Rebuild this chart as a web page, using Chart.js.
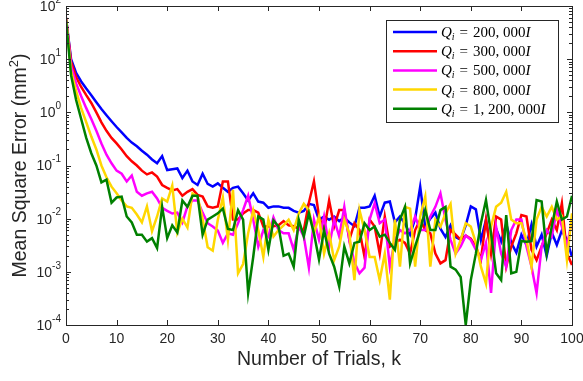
<!DOCTYPE html>
<html>
<head>
<meta charset="utf-8">
<script src="https://cdn.jsdelivr.net/npm/chart.js@4.4.0/dist/chart.umd.min.js"></script>
<style>
  html, body { margin: 0; padding: 0; background: #fff; }
  canvas { display: block; }
</style>
</head>
<body>
<canvas id="myChart" width="583" height="381"></canvas>
<script>
// trial index along the x-axis
var trials = [0,1,2,3,4,5,6,7,8,9,10,11,12,13,14,15,16,17,18,19,20,21,22,23,24,25,26,27,28,29,30,31,32,33,34,35,36,37,38,39,40,41,42,43,44,45,46,47,48,49,50,51,52,53,54,55,56,57,58,59,60,61,62,63,64,65,66,67,68,69,70,71,72,73,74,75,76,77,78,79,80,81,82,83,84,85,86,87,88,89,90,91,92,93,94,95,96,97,98,99,100];

// mean square error for each Q_i (mm^2)
var q200k = [60,10,5.5,3.8,2.8,2.1,1.55,1.15,0.88,0.68,0.53,0.42,0.33,0.27,0.23,0.19,0.16,0.13,0.11,0.15,0.082,0.085,0.088,0.058,0.08,0.05,0.043,0.07,0.045,0.04,0.046,0.038,0.032,0.038,0.04,0.03,0.022,0.03,0.021,0.02,0.016,0.017,0.017,0.016,0.016,0.014,0.013,0.014,0.019,0.018,0.0095,0.011,0.0095,0.011,0.009,0.0105,0.0085,0.0072,0.016,0.016,0.017,0.027,0.011,0.02,0.021,0.0085,0.011,0.008,0.005,0.01,0.04,0.007,0.01,0.013,0.0065,0.0045,0.0075,0.0045,0.004,0.0075,0.017,0.015,0.004,0.0095,0.0026,0.0065,0.0037,0.008,0.0035,0.0023,0.005,0.0032,0.0078,0.003,0.005,0.002,0.0055,0.0032,0.006,0.004,0.0019];
var q300k = [60,9,4.6,3.0,2.1,1.5,1.0,0.65,0.45,0.33,0.26,0.2,0.15,0.12,0.1,0.08,0.068,0.074,0.062,0.043,0.038,0.034,0.036,0.027,0.032,0.036,0.028,0.026,0.017,0.016,0.017,0.05,0.05,0.0096,0.0096,0.0125,0.0145,0.0145,0.013,0.0071,0.0071,0.0072,0.0075,0.009,0.0075,0.0072,0.0065,0.0061,0.02,0.05,0.011,0.006,0.022,0.0071,0.0145,0.0145,0.004,0.0082,0.0061,0.0019,0.0096,0.0071,0.0022,0.011,0.003,0.0035,0.004,0.0035,0.0022,0.0061,0.0096,0.0061,0.0053,0.0022,0.00144,0.00166,0.0061,0.005,0.004,0.0048,0.0042,0.003,0.0017,0.0096,0.0022,0.011,0.0096,0.00125,0.003,0.0053,0.0117,0.011,0.0026,0.00166,0.003,0.0053,0.0096,0.0061,0.0195,0.0022,0.00135];
var q500k = [60,7.5,3.5,2.0,1.2,0.75,0.45,0.26,0.16,0.11,0.08,0.07,0.05,0.065,0.032,0.027,0.03,0.032,0.024,0.016,0.014,0.0125,0.013,0.0085,0.017,0.022,0.022,0.013,0.0082,0.0071,0.006,0.0035,0.0053,0.005,0.0082,0.0145,0.027,0.0096,0.003,0.0061,0.0046,0.0105,0.0061,0.0053,0.0053,0.0026,0.0071,0.0046,0.0012,0.0096,0.004,0.011,0.003,0.0096,0.0046,0.0167,0.004,0.0015,0.00094,0.0012,0.0096,0.0195,0.0082,0.0096,0.00125,0.004,0.0061,0.0053,0.0061,0.011,0.0061,0.0061,0.011,0.0167,0.03,0.0096,0.004,0.0022,0.003,0.0048,0.004,0.0026,0.0017,0.0035,0.0004,0.0071,0.0022,0.00125,0.0061,0.0096,0.0096,0.003,0.00125,0.0004,0.003,0.0061,0.0046,0.0145,0.0071,0.003,0.0096];
var q800k = [60,6.0,2.5,1.2,0.65,0.35,0.2,0.1,0.06,0.04,0.03,0.022,0.017,0.016,0.012,0.0085,0.017,0.0058,0.011,0.024,0.021,0.042,0.0055,0.01,0.0068,0.03,0.026,0.01,0.0029,0.0025,0.0095,0.025,0.004,0.035,0.00094,0.0014,0.0053,0.0145,0.0061,0.0019,0.0096,0.0046,0.0061,0.0075,0.0096,0.0061,0.0125,0.019,0.0145,0.0053,0.011,0.0022,0.0053,0.00166,0.003,0.0096,0.0053,0.0007,0.0145,0.0061,0.0019,0.0019,0.0007,0.0022,0.0003,0.0096,0.00125,0.0167,0.0155,0.00125,0.011,0.026,0.00125,0.0096,0.0071,0.0126,0.019,0.0022,0.004,0.0082,0.0071,0.0035,0.00125,0.0006,0.0071,0.0167,0.02,0.032,0.0096,0.0082,0.0082,0.004,0.00125,0.0096,0.0167,0.011,0.0167,0.0096,0.011,0.00166,0.0126];
var q1200k = [55,5,1.7,0.75,0.33,0.17,0.1,0.048,0.054,0.02,0.025,0.026,0.011,0.0085,0.005,0.005,0.0037,0.0043,0.0028,0.0167,0.0043,0.0075,0.0055,0.022,0.0167,0.027,0.027,0.005,0.0096,0.011,0.0126,0.0155,0.0064,0.0061,0.0145,0.0096,0.0004,0.0019,0.011,0.0096,0.0026,0.0093,0.0071,0.002,0.0022,0.00125,0.0096,0.0046,0.0126,0.0053,0.0017,0.0061,0.0022,0.00125,0.00053,0.003,0.00144,0.0035,0.0037,0.0082,0.0061,0.0071,0.0046,0.005,0.0035,0.0026,0.0096,0.0167,0.00144,0.003,0.0061,0.0145,0.0061,0.0061,0.0145,0.0167,0.00125,0.0011,0.0008,0.0001,0.0007,0.0022,0.0082,0.0224,0.0053,0.00094,0.0007,0.0117,0.00094,0.001,0.0038,0.0037,0.0038,0.0224,0.021,0.0022,0.0071,0.021,0.0096,0.011,0.027];

var seriesNames = ['200, 000', '300, 000', '500, 000', '800, 000', '1, 200, 000'];
var seriesColors = ['#0000ff', '#ff0000', '#ff00ff', '#ffd700', '#008000'];

// tick labels
var xTicks = [0,10,20,30,40,50,60,70,80,90,100];
var yTickExp = [-4,-3,-2,-1,0,1,2];

var allSeries = [q200k, q300k, q500k, q800k, q1200k];
var TEXT = '#262626';
var SANS = '"Liberation Sans", Arial, Helvetica, sans-serif';
var SERIF = '"Liberation Serif", "Times New Roman", serif';

function points(vals) {
  return trials.map(function (k, i) { return { x: k, y: vals[i] }; });
}

// draws the MATLAB-like box, inward ticks, labels and legend
var matlabAxes = {
  id: 'matlabAxes',
  afterDatasetsDraw: function (chart) {
    var ctx = chart.ctx;
    var a = chart.chartArea;
    var xs = chart.scales.x, ys = chart.scales.y;
    ctx.save();
    ctx.strokeStyle = TEXT;
    ctx.lineWidth = 1;

    // box
    ctx.strokeRect(Math.round(a.left) + 0.5, Math.round(a.top) + 0.5,
      Math.round(a.right - a.left), Math.round(a.bottom - a.top));

    ctx.beginPath();
    xTicks.forEach(function (v) {
      var px = Math.round(xs.getPixelForValue(v)) + 0.5;
      ctx.moveTo(px, a.bottom); ctx.lineTo(px, a.bottom - 5);
      ctx.moveTo(px, a.top); ctx.lineTo(px, a.top + 5);
    });
    yTickExp.forEach(function (e, idx) {
      var py = Math.round(ys.getPixelForValue(Math.pow(10, e))) + 0.5;
      ctx.moveTo(a.left, py); ctx.lineTo(a.left + 5, py);
      ctx.moveTo(a.right, py); ctx.lineTo(a.right - 5, py);
      if (idx < yTickExp.length - 1) {
        for (var m = 2; m <= 9; m++) {
          var pm = Math.round(ys.getPixelForValue(m * Math.pow(10, e))) + 0.5;
          ctx.moveTo(a.left, pm); ctx.lineTo(a.left + 3, pm);
          ctx.moveTo(a.right, pm); ctx.lineTo(a.right - 3, pm);
        }
      }
    });
    ctx.stroke();

    // x tick labels
    ctx.fillStyle = TEXT;
    ctx.font = '14px ' + SANS;
    ctx.textAlign = 'center';
    ctx.textBaseline = 'top';
    xTicks.forEach(function (v) {
      ctx.fillText(String(v), xs.getPixelForValue(v), a.bottom + 7);
    });

    // y tick labels 10^e
    ctx.textBaseline = 'middle';
    yTickExp.forEach(function (e) {
      var py = ys.getPixelForValue(Math.pow(10, e));
      var right = a.left - 5;
      ctx.font = '10px ' + SANS;
      var expTxt = e < 0 ? '-' + Math.abs(e) : String(e);
      var ew = ctx.measureText(expTxt).width;
      ctx.textAlign = 'left';
      ctx.fillText(expTxt, right - ew, py - 6);
      ctx.font = '14px ' + SANS;
      ctx.textAlign = 'right';
      ctx.fillText('10', right - ew, py + 1);
    });

    // axis titles
    ctx.font = '19.5px ' + SANS;
    ctx.textAlign = 'center';
    ctx.textBaseline = 'middle';
    ctx.fillText('Number of Trials, k', (a.left + a.right) / 2, 360);

    // y title with a raised 2
    ctx.save();
    ctx.translate(21, (a.top + a.bottom) / 2);
    ctx.rotate(-Math.PI / 2);
    ctx.textAlign = 'left';
    var p1 = 'Mean Square Error (mm', p2 = '2', p3 = ')';
    ctx.font = '19.5px ' + SANS;
    var w1 = ctx.measureText(p1).width, w3 = ctx.measureText(p3).width;
    ctx.font = '13px ' + SANS;
    var w2 = ctx.measureText(p2).width;
    var sx = -(w1 + w2 + w3) / 2;
    ctx.font = '19.5px ' + SANS;
    ctx.fillText(p1, sx, 0);
    ctx.fillText(p3, sx + w1 + w2, 0);
    ctx.font = '13px ' + SANS;
    ctx.fillText(p2, sx + w1, -7);
    ctx.restore();

    // legend
    var lx = 386, ly = 20, lw = 172, lh = 102;
    ctx.fillStyle = '#fff';
    ctx.fillRect(lx, ly, lw, lh);
    ctx.strokeStyle = TEXT;
    ctx.strokeRect(lx + 0.5, ly + 0.5, lw, lh);
    seriesNames.forEach(function (name, i) {
      var y = 32 + i * 19.2;
      ctx.strokeStyle = seriesColors[i];
      ctx.lineWidth = 2.5;
      ctx.beginPath();
      ctx.moveTo(393, y); ctx.lineTo(437, y);
      ctx.stroke();
      ctx.fillStyle = '#000';
      ctx.textAlign = 'left';
      ctx.textBaseline = 'alphabetic';
      var x = 441, base = y + 5;
      ctx.font = 'italic 15px ' + SERIF;
      ctx.fillText('Q', x, base); x += ctx.measureText('Q').width;
      ctx.font = 'italic 10px ' + SERIF;
      ctx.fillText('i', x, base + 3); x += ctx.measureText('i').width + 5;
      ctx.font = '15px ' + SERIF;
      ctx.fillText('=', x, base); x += ctx.measureText('=').width + 5;
      ctx.fillText(name, x, base); x += ctx.measureText(name).width;
      ctx.font = 'italic 15px ' + SERIF;
      ctx.fillText('I', x, base);
    });
    ctx.restore();
  }
};

var ctx = document.getElementById('myChart');
var myChart = new Chart(ctx, {
  type: 'line',
  data: {
    datasets: allSeries.map(function (vals, i) {
      return {
        data: points(vals),
        borderColor: seriesColors[i],
        borderWidth: 2.5,
        pointRadius: 0,
        tension: 0,
        fill: false,
        order: allSeries.length - i
      };
    })
  },
  options: {
    responsive: false,
    animation: false,
    layout: { padding: { top: 6, right: 11, left: 0, bottom: 0 } },
    plugins: { legend: { display: false }, tooltip: { enabled: false } },
    scales: {
      x: {
        type: 'linear', min: 0, max: 100,
        grid: { display: false }, border: { display: false },
        ticks: { display: false, stepSize: 10 },
        afterFit: function (s) { s.height = 56; }
      },
      y: {
        type: 'logarithmic', min: 0.0001, max: 100,
        grid: { display: false }, border: { display: false },
        ticks: { display: false },
        afterFit: function (s) { s.width = 66; }
      }
    }
  },
  plugins: [matlabAxes]
});
</script>
</body>
</html>
